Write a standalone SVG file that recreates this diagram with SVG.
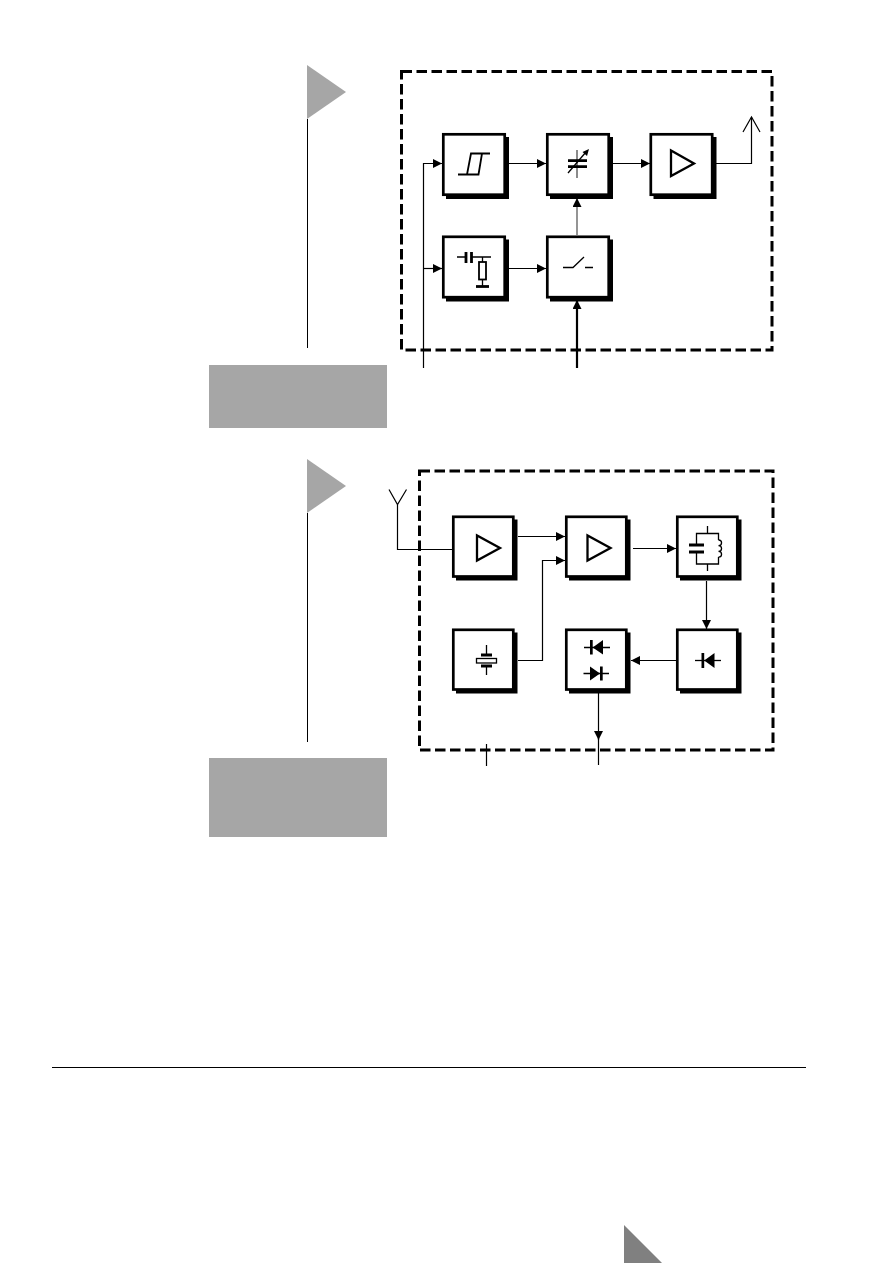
<svg xmlns="http://www.w3.org/2000/svg" width="893" height="1263" viewBox="0 0 893 1263">
  <style>
    .frame { fill: none; stroke: #000; stroke-width: 3; stroke-dasharray: 10.500 4.500; }
    .box { fill: #fff; stroke: #000; stroke-width: 2.700; }
    .shade { fill: #000; }
    .sym { fill: none; stroke: #000; stroke-width: 1.300; }
    .thin { stroke-width: 1.800; }
    .amp { fill: none; stroke: #000; stroke-width: 2.300; }
    .plate { fill: none; stroke: #000; stroke-width: 2.800; }
    .ink { fill: #000; stroke: none; }
    .wire { fill: none; stroke: #000; stroke-width: 1.200; }
    .heavy { fill: none; stroke: #000; stroke-width: 2.200; }
    .flag { fill: #a6a6a6; }
    .rule { fill: none; stroke: #000; stroke-width: 1; }
  </style>
  <defs>
    <marker id="tip" markerUnits="userSpaceOnUse" markerWidth="10" markerHeight="10" refX="9" refY="4.500" orient="auto">
      <path d="M0,0 L9,4.500 L0,9 Z" fill="#000"/>
    </marker>
    <g id="block">
      <rect class="shade" x="4" y="4" width="63" height="62"/>
      <rect class="box" x="1.300" y="1.300" width="61.400" height="60.400"/>
    </g>
    <g id="block-narrow">
      <rect class="shade" x="4" y="4" width="61.500" height="61"/>
      <rect class="box" x="1.300" y="1.300" width="60" height="59.700"/>
    </g>
  </defs>

  <g id="margin-marks">
    <path class="flag" d="M307,65 L346,92 L307,119 Z"/>
    <path class="rule" d="M307.500,119 V348"/>
    <rect class="flag" x="209" y="365" width="178" height="63"/>
    <path class="flag" d="M307,459 L346,486 L307,513 Z"/>
    <path class="rule" d="M307.500,513 V742"/>
    <rect class="flag" x="209" y="758" width="178" height="79"/>
    <path class="rule" d="M52,1067.500 H806"/>
    <path d="M624,1225 L662,1263 H624 Z" fill="#808080"/>
  </g>

  <g id="transmitter-frame"><rect class="frame" x="401.500" y="71.500" width="370.500" height="278.500"/></g>
  <g id="receiver-frame"><rect class="frame" x="419.500" y="471" width="353.500" height="279"/></g>

  <g id="connectors">
    <path class="wire" marker-end="url(#tip)" d="M423.500,368 V163.500 H442"/>
    <path class="wire" marker-end="url(#tip)" d="M423.500,268.500 H442"/>
    <path class="wire" marker-end="url(#tip)" d="M509,163.500 H546"/>
    <path class="wire" marker-end="url(#tip)" d="M613,163.500 H650"/>
    <path class="wire" d="M716,163.500 H751.500 V117"/>
    <path class="wire" d="M743,132 L751.500,117 L760,132"/>
    <path class="wire" marker-end="url(#tip)" d="M509,268.500 H546"/>
    <path class="wire" stroke-opacity="0.700" marker-end="url(#tip)" d="M577,235 V198"/>
    <path class="heavy" marker-end="url(#tip)" d="M577,368 V300"/>

    <path class="wire" d="M389,489.500 L397.500,504.500 L406.500,489.500"/>
    <path class="wire" d="M397.500,504.500 V549.500 H452"/>
    <path class="wire" marker-end="url(#tip)" d="M518,536.500 H565"/>
    <path class="wire" marker-end="url(#tip)" d="M518,660.500 H542.500 V560.500 H565"/>
    <path class="wire" marker-end="url(#tip)" d="M633,548.500 H676"/>
    <path class="wire" marker-end="url(#tip)" d="M706.500,581 V629"/>
    <path class="wire" marker-end="url(#tip)" d="M676,660.500 H631"/>
    <path class="wire" marker-end="url(#tip)" d="M598.500,693 V740"/>
    <path class="wire" d="M598.500,738 V765"/>
    <path class="wire" d="M486.500,744 V766"/>
  </g>

  <g id="schmitt-trigger">
    <use href="#block" x="442" y="133"/>
    <path class="sym thin" d="M458,174.500 H478.500 L482,153.500 H490 M467,174.500 L471,153.500 H482"/>
  </g>
  <g id="variable-capacitor">
    <use href="#block" x="546" y="133"/>
    <path class="plate" d="M568,160.700 H587 M568,166.700 H587"/>
    <path class="sym" d="M577,150 V178" stroke-opacity="0.700"/>
    <path class="sym" d="M568,173 L586,152"/>
    <path class="ink" d="M589,149 L587,156 L582.500,152 Z"/>
  </g>
  <g id="output-amplifier">
    <use href="#block" x="649.500" y="133"/>
    <path class="amp" d="M671,150.500 V176 L694,163.500 Z"/>
  </g>
  <g id="rc-network">
    <use href="#block" x="442" y="235.500"/>
    <path class="sym" d="M457,257 H465 M472,257 H491 M482.500,257 V262 M482.500,279 V286"/>
    <path class="plate" d="M466,252 V263 M471.500,252 V263"/>
    <rect class="sym thin" x="479" y="262" width="7" height="17.500"/>
    <path class="plate" d="M476,286.500 H489"/>
  </g>
  <g id="switch">
    <use href="#block" x="546" y="235.500"/>
    <path class="sym" d="M563,267.500 H573 L584,257 M585,267.500 H593"/>
  </g>

  <g id="input-amplifier">
    <use href="#block-narrow" x="452" y="515.500"/>
    <path class="amp" d="M477,535.500 V560.500 L500,548 Z"/>
  </g>
  <g id="mixer-amplifier">
    <use href="#block-narrow" x="565" y="515.500"/>
    <path class="amp" d="M587.500,535.500 V560.500 L610.500,548 Z"/>
  </g>
  <g id="tank-circuit">
    <use href="#block-narrow" x="676" y="515.500"/>
    <path class="sym" d="M707.500,526 V533.500 M707.500,564 V571 M696.500,545 V533.500 H718.500 V540 M718.500,557 V564 H696.500 V552"/>
    <path class="sym" d="M718.500,540 a3,2.800 0 0 1 0,5.700 a3,2.800 0 0 1 0,5.700 a3,2.800 0 0 1 0,5.700"/>
    <path class="plate" d="M689,545 H704 M689,552 H704"/>
  </g>
  <g id="crystal-oscillator">
    <use href="#block-narrow" x="452" y="628.500"/>
    <path class="sym" d="M486.500,645 V655 M486.500,666 V675"/>
    <path class="plate" d="M481,655 H492 M481,666 H492"/>
    <rect class="sym" x="476.500" y="658.500" width="20" height="4.500"/>
  </g>
  <g id="diode-pair">
    <use href="#block-narrow" x="565" y="628.500"/>
    <path class="sym" d="M584,647.500 H610 M583.500,673.500 H609"/>
    <path class="ink" d="M590,640 H592.700 V654.500 H590 Z M592.700,647.500 L603,640 V654.500 Z"/>
    <path class="ink" d="M590,666.500 L600,673.500 L590,680.500 Z M600,666.500 H602.700 V680.500 H600 Z"/>
  </g>
  <g id="detector-diode">
    <use href="#block-narrow" x="676" y="628.500"/>
    <path class="sym" d="M695,660.500 H721"/>
    <path class="ink" d="M701.500,653 H704.200 V668 H701.500 Z M704.200,660.500 L714.500,653 V668 Z"/>
  </g>
</svg>
